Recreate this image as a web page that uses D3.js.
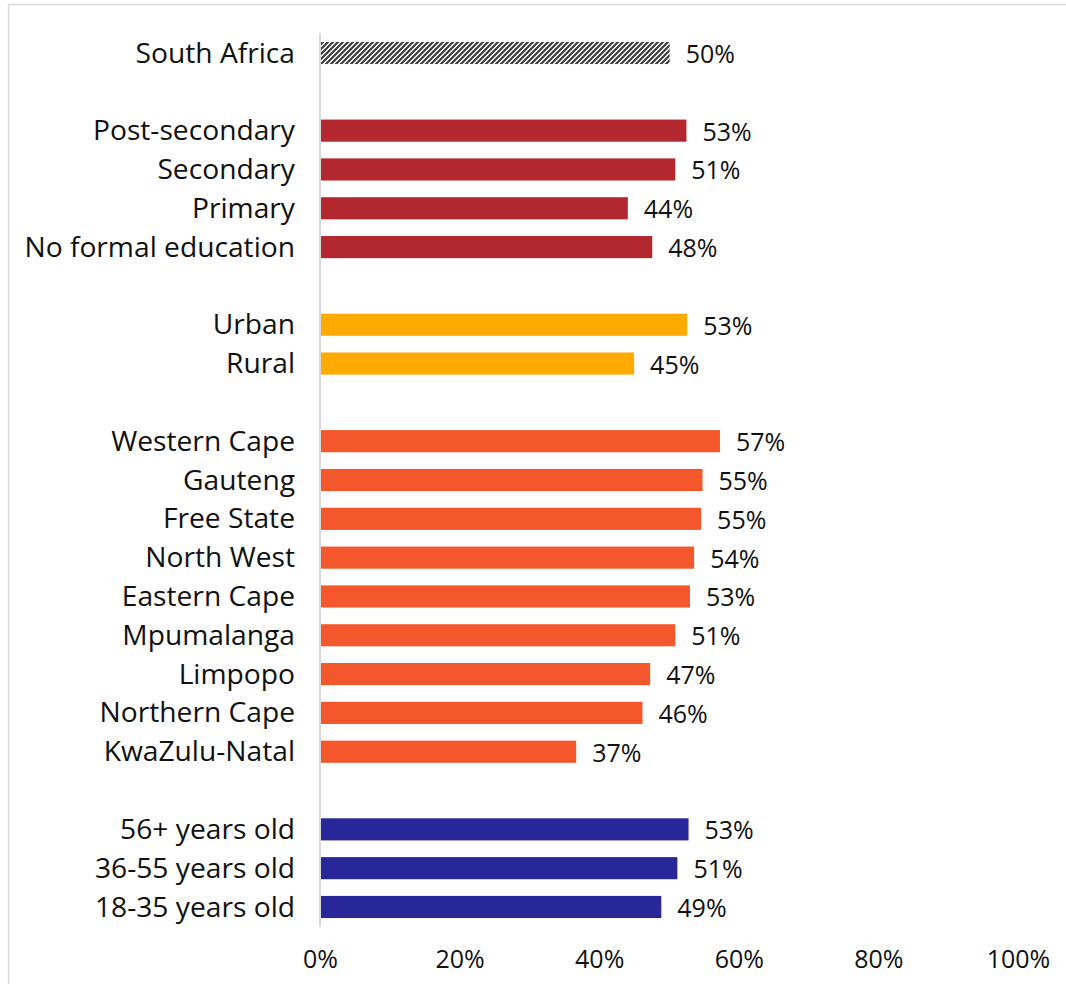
<!DOCTYPE html>
<html>
<head>
<meta charset="utf-8">
<script src="https://cdn.jsdelivr.net/npm/d3@7"></script>
<style>
  html, body { margin: 0; padding: 0; background: #fff; }
  svg { display: block; }
</style>
</head>
<body>
<svg id="chart" width="1066" height="984"></svg>
<script>
// ---- data ----
const categories = [
  "South Africa", "gap1",
  "Post-secondary", "Secondary", "Primary", "No formal education", "gap2",
  "Urban", "Rural", "gap3",
  "Western Cape", "Gauteng", "Free State", "North West", "Eastern Cape",
  "Mpumalanga", "Limpopo", "Northern Cape", "KwaZulu-Natal", "gap4",
  "56+ years old", "36-55 years old", "18-35 years old"
];
const values = [
  50.1, null,
  52.5, 50.9, 44.1, 47.6, null,
  52.6, 45.0, null,
  57.3, 54.8, 54.6, 53.6, 53.0, 50.9, 47.3, 46.2, 36.7, null,
  52.8, 51.2, 48.9
];
const groups = [
  "total", null,
  "education", "education", "education", "education", null,
  "location", "location", null,
  "province", "province", "province", "province", "province",
  "province", "province", "province", "province", null,
  "age", "age", "age"
];
const groupColors = {
  total: "url(#hatch)",
  education: "#B2282E",
  location: "#FFAA00",
  province: "#F3572B",
  age: "#27279A"
};
const xTicks = [0, 20, 40, 60, 80, 100];

// ---- layout ----
const svg = d3.select("#chart");
const W = 1066, H = 984;
const plot = { left: 320, right: 1018, top: 33.6, bottom: 926.4 };

svg.append("rect").attr("width", W).attr("height", H).attr("fill", "#fff");
// chart border (right and bottom fall outside the picture)
svg.append("rect")
  .attr("x", 8.5).attr("y", 4.5).attr("width", 1080).attr("height", 1000)
  .attr("fill", "none").attr("stroke", "#d9d9d9").attr("stroke-width", 1.5);

// hatch pattern
const defs = svg.append("defs");
const pat = defs.append("pattern")
  .attr("id", "hatch").attr("patternUnits", "userSpaceOnUse")
  .attr("width", 5).attr("height", 5);
pat.append("rect").attr("width", 5).attr("height", 5).attr("fill", "#fff");
pat.append("path")
  .attr("d", "M-1,1 l2,-2 M0,5 l5,-5 M4,6 l2,-2")
  .attr("stroke", "#3a3a3a").attr("stroke-width", 2.1);

const x = d3.scaleLinear().domain([0, 100]).range([plot.left, plot.right]);
const y = d3.scaleBand().domain(categories).range([plot.top, plot.bottom]).paddingInner(0.43).paddingOuter(0.215);

const font = "'Open Sans', sans-serif";
const data = categories.map((c, i) => ({ cat: c, value: values[i], group: groups[i] }))
  .filter(d => d.value !== null);

// bars
svg.append("g").selectAll("rect").data(data).join("rect")
  .attr("x", x(0))
  .attr("y", d => y(d.cat))
  .attr("width", d => x(d.value) - x(0))
  .attr("height", y.bandwidth())
  .attr("fill", d => groupColors[d.group]);

// vertical axis line
svg.append("line")
  .attr("x1", x(0)).attr("x2", x(0))
  .attr("y1", plot.top).attr("y2", plot.bottom)
  .attr("stroke", "#d9d9d9").attr("stroke-width", 2);

// category labels
svg.append("g").selectAll("text").data(data).join("text")
  .attr("x", 295)
  .attr("y", d => y(d.cat) + y.bandwidth() / 2)
  .attr("dy", "0.34em")
  .attr("text-anchor", "end")
  .attr("font-family", font).attr("font-size", 28.2)
  .attr("fill", "#111")
  .text(d => d.cat);

// value labels
svg.append("g").selectAll("text").data(data).join("text")
  .attr("x", d => x(d.value) + 16)
  .attr("y", d => y(d.cat) + y.bandwidth() / 2)
  .attr("dy", "0.4em")
  .attr("font-family", font).attr("font-size", 25)
  .attr("fill", "#111")
  .text(d => Math.round(d.value) + "%");

// x axis tick labels
const xAxis = d3.axisBottom(x).tickValues(xTicks).tickFormat(d => d + "%").tickSize(0).tickPadding(0);
const ax = svg.append("g").attr("transform", `translate(0, 950)`).call(xAxis);
ax.select(".domain").remove();
ax.selectAll("text")
  .attr("font-family", font).attr("font-size", 25)
  .attr("fill", "#111").attr("dy", "0.71em");
</script>
</body>
</html>
